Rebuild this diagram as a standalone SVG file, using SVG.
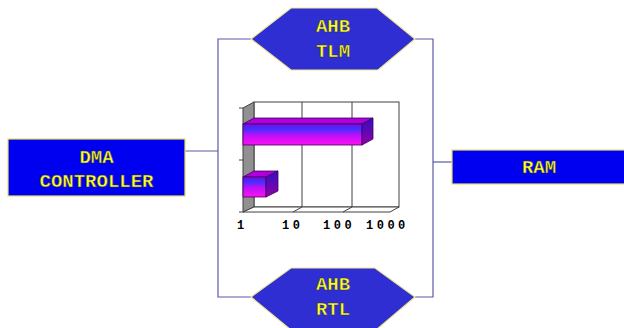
<svg xmlns="http://www.w3.org/2000/svg" width="624" height="328" viewBox="0 0 624 328">
<defs>
<style>
.box{fill:#0000f0;stroke:#e8e060;stroke-width:1.2}
.hex{fill:#2e2ed2;stroke:#f0e890;stroke-width:1.2}
.lbl{font-family:"Liberation Mono","Courier New",monospace;font-weight:bold;font-size:19px;fill:#ffff30;stroke:#303030;stroke-width:0.5;text-anchor:middle}
.conn{fill:none;stroke:#5a5aa8;stroke-width:1.2}
.grid{fill:none;stroke:#404040;stroke-width:1}
.axis{font-family:"Liberation Mono","Courier New",monospace;font-weight:bold;font-size:12px;fill:#000000;letter-spacing:3.5px}
</style>
<linearGradient id="front" x1="0" y1="0" x2="0" y2="1">
<stop offset="0" stop-color="#9000e0"/>
<stop offset="0.2" stop-color="#3a30ff"/>
<stop offset="0.55" stop-color="#c010f8"/>
<stop offset="1" stop-color="#ff10f0"/>
</linearGradient>
<linearGradient id="side" x1="0" y1="0" x2="0" y2="1">
<stop offset="0" stop-color="#3010c0"/>
<stop offset="1" stop-color="#9000a8"/>
</linearGradient>
</defs>

<g id="connectors">
<polyline class="conn" points="185,151 218,151"/>
<polyline class="conn" points="251,39 218,39 218,297 251,297"/>
<polyline class="conn" points="415,39 433,39 433,297 415,297"/>
<polyline class="conn" points="433,162 452,162"/>
</g>

<g id="dma">
<rect class="box" x="8" y="139" width="177" height="57"/>
<text class="lbl" x="96.5" y="163">DMA</text>
<text class="lbl" x="96.5" y="187">CONTROLLER</text>
</g>

<g id="ahb-tlm">
<polygon class="hex" points="251,39 291,8 377,8 415,39 378,70 291,70"/>
<text class="lbl" x="333" y="32">AHB</text>
<text class="lbl" x="333" y="57">TLM</text>
</g>

<g id="ahb-rtl">
<polygon class="hex" points="251,297 291,268 375,268 415,297 376,330 291,330"/>
<text class="lbl" x="333" y="290">AHB</text>
<text class="lbl" x="333" y="315">RTL</text>
</g>

<g id="ram">
<rect class="box" x="452" y="150" width="175" height="34"/>
<text class="lbl" x="539" y="173">RAM</text>
</g>

<g id="chart">
<rect x="254" y="102" width="145" height="105" fill="#ffffff" stroke="#404040" stroke-width="1"/>
<polygon points="243,108 254,102 254,207 243,212" fill="#909090" stroke="#404040" stroke-width="1"/>
<polygon points="243,212 254,207 399,207 390,212" fill="#ffffff" stroke="#404040" stroke-width="1"/>
<line class="grid" x1="302" y1="102" x2="302" y2="207"/>
<line class="grid" x1="352" y1="102" x2="352" y2="207"/>
<line class="grid" x1="302" y1="207" x2="293" y2="212"/>
<line class="grid" x1="352" y1="207" x2="343" y2="212"/>
<line class="grid" x1="239" y1="108" x2="243" y2="108"/>
<line class="grid" x1="239" y1="160" x2="243" y2="160"/>
<line class="grid" x1="239" y1="212" x2="243" y2="212"/>
<polygon points="243,124 254,118 373,118 362,124" fill="#b000d8" stroke="#400060" stroke-width="0.8"/>
<rect x="243" y="124" width="119" height="21" fill="url(#front)" stroke="#400060" stroke-width="0.8"/>
<polygon points="362,124 373,118 373,139 362,145" fill="url(#side)" stroke="#400060" stroke-width="0.8"/>
<polygon points="243,177 254,171 278,171 266,177" fill="#b000d8" stroke="#400060" stroke-width="0.8"/>
<rect x="243" y="177" width="23" height="20" fill="url(#front)" stroke="#400060" stroke-width="0.8"/>
<polygon points="266,177 278,171 278,191 266,197" fill="url(#side)" stroke="#400060" stroke-width="0.8"/>
<text class="axis" x="237" y="229">1</text>
<text class="axis" x="282" y="229">10</text>
<text class="axis" x="323" y="229">100</text>
<text class="axis" x="366" y="229">1000</text>
</g>
</svg>
